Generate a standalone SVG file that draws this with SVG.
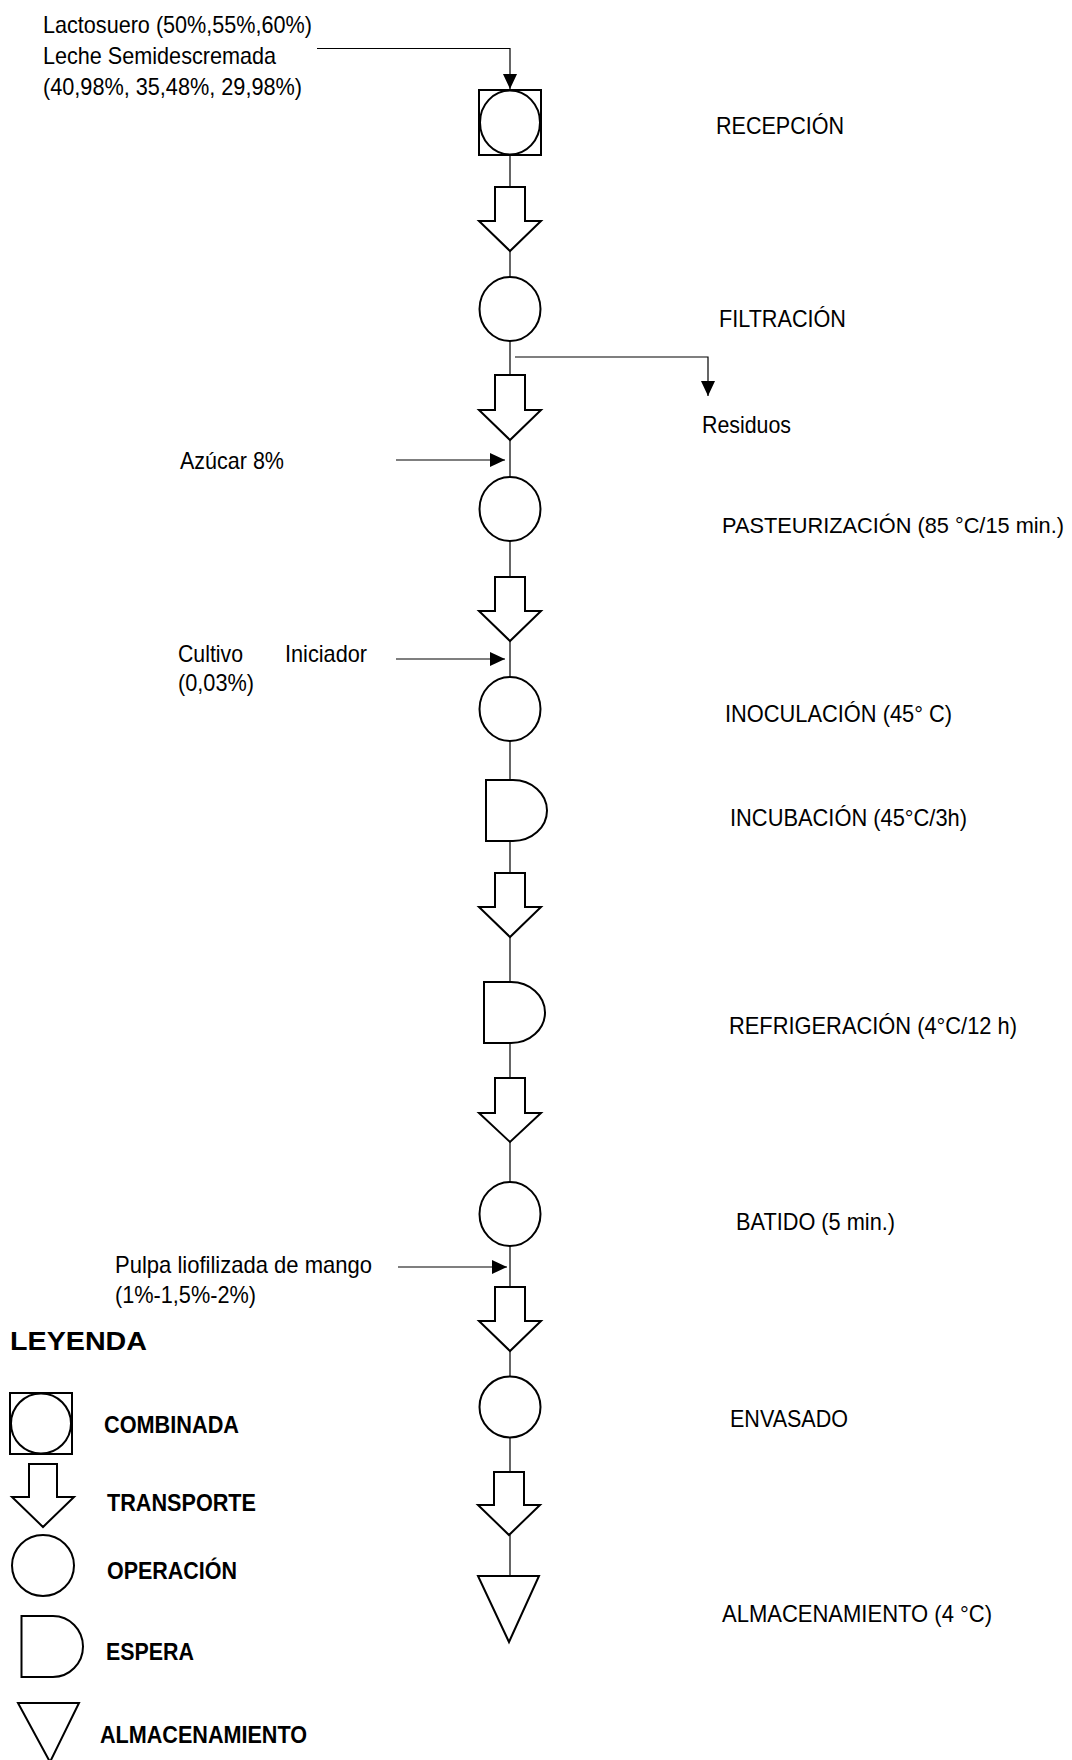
<svg xmlns="http://www.w3.org/2000/svg" width="1072" height="1760" viewBox="0 0 1072 1760">
<style>
.s{fill:#fff;stroke:#000;stroke-width:2}
.c{fill:none;stroke:#000;stroke-width:1.2}
.t{font-family:"Liberation Sans",Arial,sans-serif;font-size:24px;fill:#000}
.b{font-family:"Liberation Sans",Arial,sans-serif;font-size:24px;font-weight:bold;fill:#000}
</style>
<defs>
<marker id="ah" markerUnits="userSpaceOnUse" markerWidth="16" markerHeight="14" refX="15" refY="7" orient="auto">
<path d="M0,0 L15,7 L0,14 Z" fill="#000"/>
</marker>
</defs>
<rect width="1072" height="1760" fill="#fff"/>

<g id="connectors">
<path class="c" d="M317,48.5 H510 V89" marker-end="url(#ah)"/>
<path class="c" d="M515,357 H708 V396" marker-end="url(#ah)"/>
<path class="c" d="M396,460 H505" marker-end="url(#ah)"/>
<path class="c" d="M396,659 H505" marker-end="url(#ah)"/>
<path class="c" d="M398,1267 H507" marker-end="url(#ah)"/>
<path class="c" d="M510,155 V187 M510,251 V277 M510,341 V375 M510,440 V477 M510,541 V577 M510,641 V677 M510,741 V780 M510,841 V873 M510,937 V982 M510,1043 V1078 M510,1142 V1182 M510,1246 V1287 M510,1351 V1377 M510,1437 V1472 M510,1535 V1576"/>
</g>

<g id="input-text">
<text class="t" x="43" y="33" textLength="269" lengthAdjust="spacingAndGlyphs">Lactosuero (50%,55%,60%)</text>
<text class="t" x="43" y="64" textLength="233" lengthAdjust="spacingAndGlyphs">Leche Semidescremada</text>
<text class="t" x="43" y="95" textLength="259" lengthAdjust="spacingAndGlyphs">(40,98%, 35,48%, 29,98%)</text>
</g>

<g id="n-recepcion">
<rect class="s" x="479" y="90" width="62" height="65"/>
<ellipse class="s" cx="510" cy="122.5" rx="30" ry="32"/>
<text class="t" x="716" y="134" textLength="128" lengthAdjust="spacingAndGlyphs">RECEPCIÓN</text>
</g>
<g id="t1"><path class="s" d="M495,187 H525 V221 H541 L510,251 L479,221 H495 Z"/></g>

<g id="n-filtracion">
<ellipse class="s" cx="510" cy="309" rx="30.5" ry="32"/>
<text class="t" x="719" y="327" textLength="127" lengthAdjust="spacingAndGlyphs">FILTRACIÓN</text>
</g>
<g id="residuos"><text class="t" x="702" y="433" textLength="89" lengthAdjust="spacingAndGlyphs">Residuos</text></g>
<g id="t2"><path class="s" d="M495,375 H525 V410 H541 L510,440 L479,410 H495 Z"/></g>

<g id="azucar"><text class="t" x="180" y="469" textLength="104" lengthAdjust="spacingAndGlyphs">Azúcar 8%</text></g>
<g id="n-pasteurizacion">
<ellipse class="s" cx="510" cy="509" rx="30.5" ry="32"/>
<text class="t" x="722" y="533" style="font-size:21.5px" textLength="342" lengthAdjust="spacingAndGlyphs">PASTEURIZACIÓN (85 °C/15 min.)</text>
</g>
<g id="t3"><path class="s" d="M495,577 H525 V611 H541 L510,641 L479,611 H495 Z"/></g>

<g id="cultivo">
<text class="t" x="178" y="662" textLength="65" lengthAdjust="spacingAndGlyphs">Cultivo</text>
<text class="t" x="285" y="662" textLength="82" lengthAdjust="spacingAndGlyphs">Iniciador</text>
<text class="t" x="178" y="691" textLength="76" lengthAdjust="spacingAndGlyphs">(0,03%)</text>
</g>
<g id="n-inoculacion">
<ellipse class="s" cx="510" cy="709" rx="30.5" ry="32"/>
<text class="t" x="725" y="722" textLength="227" lengthAdjust="spacingAndGlyphs">INOCULACIÓN (45° C)</text>
</g>

<g id="n-incubacion">
<path class="s" d="M486,780 H513 A34,30.5 0 0 1 513,841 H486 Z"/>
<text class="t" x="730" y="826" textLength="237" lengthAdjust="spacingAndGlyphs">INCUBACIÓN (45°C/3h)</text>
</g>
<g id="t4"><path class="s" d="M495,873 H525 V907 H541 L510,937 L479,907 H495 Z"/></g>

<g id="n-refrigeracion">
<path class="s" d="M484,982 H511 A34,30.5 0 0 1 511,1043 H484 Z"/>
<text class="t" x="729" y="1034" textLength="288" lengthAdjust="spacingAndGlyphs">REFRIGERACIÓN (4°C/12 h)</text>
</g>
<g id="t5"><path class="s" d="M495,1078 H525 V1113 H541 L510,1142 L479,1113 H495 Z"/></g>

<g id="n-batido">
<ellipse class="s" cx="510" cy="1214" rx="30.5" ry="32"/>
<text class="t" x="736" y="1230" textLength="159" lengthAdjust="spacingAndGlyphs">BATIDO (5 min.)</text>
</g>
<g id="pulpa">
<text class="t" x="115" y="1273" textLength="257" lengthAdjust="spacingAndGlyphs">Pulpa liofilizada de mango</text>
<text class="t" x="115" y="1303" textLength="141" lengthAdjust="spacingAndGlyphs">(1%-1,5%-2%)</text>
</g>
<g id="t6"><path class="s" d="M495,1287 H525 V1321 H541 L510,1351 L479,1321 H495 Z"/></g>

<g id="n-envasado">
<ellipse class="s" cx="510" cy="1407" rx="30.5" ry="30.5"/>
<text class="t" x="730" y="1427" textLength="118" lengthAdjust="spacingAndGlyphs">ENVASADO</text>
</g>
<g id="t7"><path class="s" d="M494,1472 H524 V1505 H540 L509,1535 L478,1505 H494 Z"/></g>

<g id="n-almacenamiento">
<path class="s" d="M478,1576 H539 L509,1642 Z"/>
<text class="t" x="722" y="1622" textLength="270" lengthAdjust="spacingAndGlyphs">ALMACENAMIENTO (4 °C)</text>
</g>

<g id="leyenda">
<text class="b" x="10" y="1350" style="font-size:26px" textLength="137" lengthAdjust="spacingAndGlyphs">LEYENDA</text>
<g id="lg-combinada">
<rect class="s" x="10" y="1393" width="62" height="61"/>
<ellipse class="s" cx="41" cy="1423.5" rx="30" ry="30"/>
<text class="b" x="104" y="1433" textLength="135" lengthAdjust="spacingAndGlyphs">COMBINADA</text>
</g>
<g id="lg-transporte">
<path class="s" d="M29,1464 H57 V1497 H74 L43,1527 L12,1497 H29 Z"/>
<text class="b" x="107" y="1511" textLength="149" lengthAdjust="spacingAndGlyphs">TRANSPORTE</text>
</g>
<g id="lg-operacion">
<ellipse class="s" cx="43" cy="1565.5" rx="31" ry="30.5"/>
<text class="b" x="107" y="1579" textLength="130" lengthAdjust="spacingAndGlyphs">OPERACIÓN</text>
</g>
<g id="lg-espera">
<path class="s" d="M21.5,1616 H53 A30,30.5 0 0 1 53,1677 H21.5 Z"/>
<text class="b" x="106" y="1660" textLength="88" lengthAdjust="spacingAndGlyphs">ESPERA</text>
</g>
<g id="lg-almacenamiento">
<path class="s" d="M18,1703 H79 L50,1762 Z"/>
<text class="b" x="100" y="1743" textLength="207" lengthAdjust="spacingAndGlyphs">ALMACENAMIENTO</text>
</g>
</g>
</svg>
